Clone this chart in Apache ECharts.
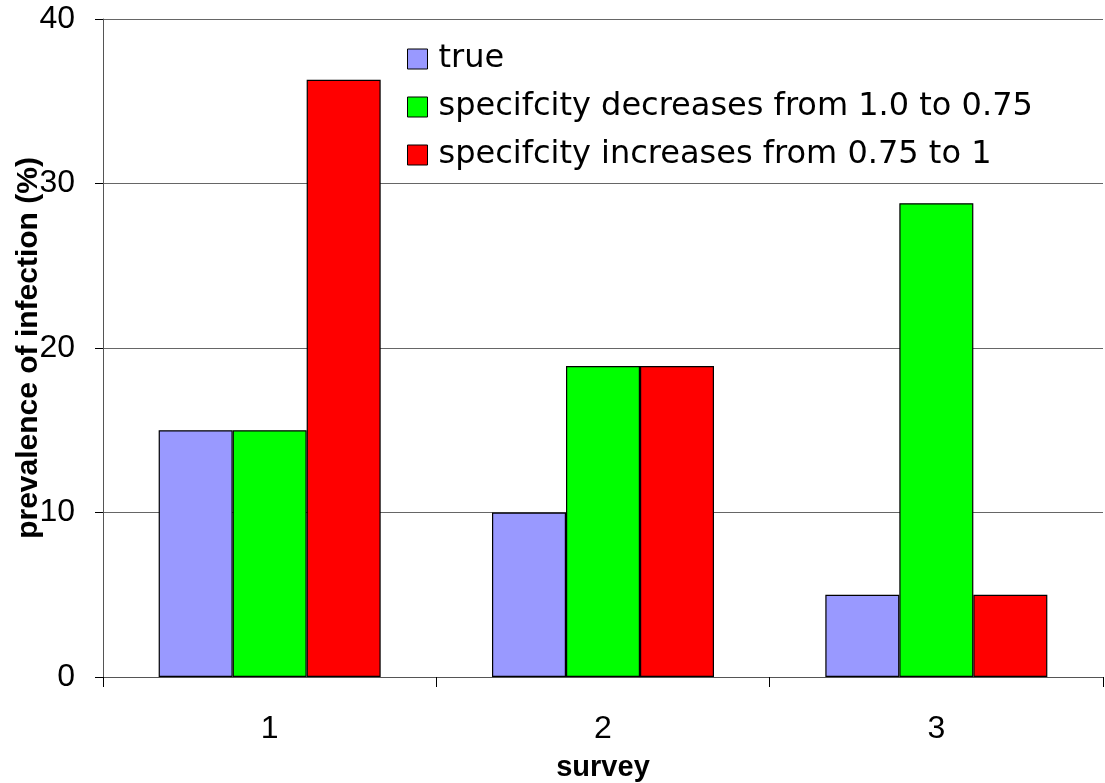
<!DOCTYPE html>
<html>
<head>
<meta charset="utf-8">
<script src="https://cdn.jsdelivr.net/npm/echarts@6/dist/echarts.min.js"></script>
<style>html,body{margin:0;padding:0;background:#fff;}#c{width:1105px;height:783px;}</style>
</head>
<body>
<div id="c"></div>
<script>
const categories = ['1', '2', '3'];
const seriesNames = ['true', 'specifcity decreases from 1.0 to 0.75', 'specifcity increases from 0.75 to 1'];
const trueVals = [15, 10, 5];
const decVals = [15, 18.9, 28.8];
const incVals = [36.3, 18.9, 5];
const yTicks = { min: 0, max: 40, interval: 10 };
const colors = ['#9999FF', '#00FF00', '#FF0000'];

const font = 'Liberation Sans, Arial, sans-serif';
const legendFont = 'DejaVu Sans, Verdana, sans-serif';
const chart = echarts.init(document.getElementById('c'), null, { renderer: 'canvas' });
const mk = (name, data, color) => ({
  name, type: 'bar', data,
  barGap: '0%', barCategoryGap: '33.4%',
  itemStyle: { color, borderColor: '#000', borderWidth: 1.2 },
  emphasis: { disabled: true },
  animation: false
});
chart.setOption({
  animation: false,
  textStyle: { fontFamily: font },
  grid: { left: 103, right: 2, top: 19, bottom: 106, containLabel: false, outerBoundsMode: 'none' },
  legend: {
    orient: 'vertical', left: 407, top: 43, padding: 0,
    itemWidth: 20, itemHeight: 20, itemGap: 16,
    icon: 'rect',
    itemStyle: { borderColor: '#000', borderWidth: 1 },
    textStyle: { fontSize: 32, lineHeight: 32, color: '#000', fontFamily: legendFont, padding: [0, 0, 0, 6] },
    data: seriesNames
  },
  xAxis: {
    type: 'category', data: categories,
    name: 'survey', nameLocation: 'middle', nameGap: 76, nameMoveOverlap: false,
    nameTextStyle: { fontSize: 29, fontWeight: 'bold', color: '#000', fontFamily: font },
    axisLine: { lineStyle: { color: '#555', width: 1 } },
    axisTick: { show: true, length: 10, inside: false, lineStyle: { color: '#000' } },
    axisLabel: { fontSize: 32, color: '#000', margin: 36, fontFamily: font }
  },
  yAxis: {
    type: 'value', min: yTicks.min, max: yTicks.max, interval: yTicks.interval,
    name: 'prevalence of infection (%)', nameLocation: 'middle', nameGap: 59, nameMoveOverlap: false,
    nameTextStyle: { fontSize: 30, fontWeight: 'bold', color: '#000', fontFamily: font },
    axisLine: { show: true, lineStyle: { color: '#555', width: 1 } },
    axisTick: { show: true, length: 8, lineStyle: { color: '#000' } },
    axisLabel: { fontSize: 32, color: '#000', margin: 28, fontFamily: font },
    splitLine: { show: true, lineStyle: { color: '#666', width: 1 } }
  },
  series: [
    mk(seriesNames[0], trueVals, colors[0]),
    mk(seriesNames[1], decVals, colors[1]),
    mk(seriesNames[2], incVals, colors[2])
  ]
});
</script>
</body>
</html>
